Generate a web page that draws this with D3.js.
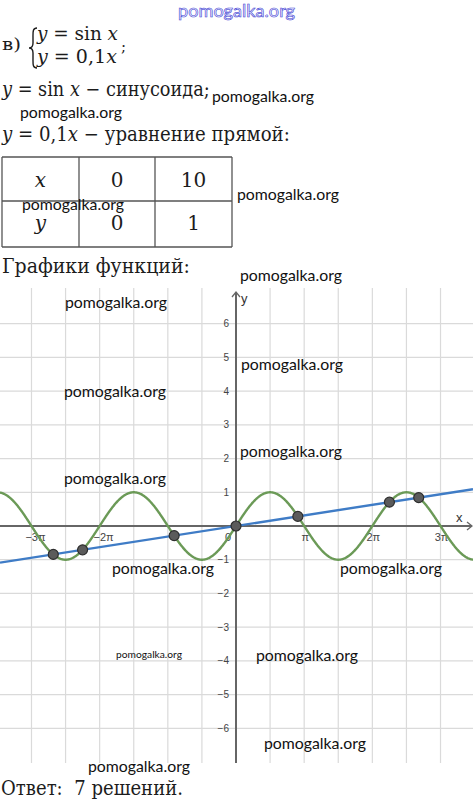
<!DOCTYPE html>
<html><head><meta charset="utf-8">
<script src="https://cdn.jsdelivr.net/npm/d3@7"></script>
<style>html,body{margin:0;padding:0;background:#fff;}svg{display:block;}</style>
</head><body>
<script>
// ---- data ----
const piMultiples = [-3, -2, 1, 2, 3];
const xTickLabels = ["\u22123\u03c0", "\u22122\u03c0", "\u03c0", "2\u03c0", "3\u03c0"];
const yTickValues = [-6, -5, -4, -3, -2, -1, 1, 2, 3, 4, 5, 6];
const yTickLabels = ["\u22126", "\u22125", "\u22124", "\u22123", "\u22122", "\u22121", "1", "2", "3", "4", "5", "6"];
const intersectionX = [-8.42, -7.07, -2.85, 0, 2.85, 7.07, 8.42];
const lineSlope = 0.1;
const tableHeader = ["x", "y"];
const tableX = [0, 10];
const tableY = [0, 1];
const watermarks = [
  [212, 102, 15], [20, 118, 15], [237, 200, 15], [22, 210, 15],
  [240, 281, 15], [65, 308, 15], [241, 370, 15], [64, 397, 15],
  [240, 457, 15], [64, 484, 15], [112, 574, 15], [340, 574, 15],
  [116, 658, 10], [256, 661, 15], [264, 749, 15], [88, 772, 15]
];

const W = 473, H = 801;
const svg = d3.select("body").append("svg").attr("width", W).attr("height", H);

const x = d3.scaleLinear().domain([-236 / 21.7, 237 / 21.7]).range([0, W]);
const y = d3.scaleLinear().domain([7, -7]).range([290, 762]);
const [xmin, xmax] = x.domain();

const serif = "'DejaVu Serif', serif";
const sans = "'Liberation Sans', Arial, sans-serif";
const wm = "Lato, 'Open Sans', sans-serif";
const ink = "#1c1c1c";

// text drawn naturally, then scaled horizontally to the measured reference width
function fitted(xp, yp, parts, width, size) {
  const g = svg.append("g");
  const t = g.append("text").attr("x", 0).attr("y", 0).attr("font-family", serif)
    .attr("font-size", size).attr("fill", ink).style("white-space", "pre");
  parts.forEach(p => t.append("tspan").attr("font-style", p[1] ? "italic" : "normal").text(p[0]));
  const w = t.node().getComputedTextLength();
  const sx = width / w;
  g.attr("transform", `translate(${xp},${yp}) scale(${sx},1)`);
  return g;
}

// ---- header text ----
svg.append("text").attr("x", 178).attr("y", 17).attr("font-family", wm).attr("font-size", 18)
  .attr("fill", "#f2f2ff").attr("stroke", "#3c3cd2").attr("stroke-width", 0.6)
  .attr("textLength", 117).attr("lengthAdjust", "spacingAndGlyphs").text("pomogalka.org");

fitted(2, 50, [["в)", 0]], 19, 17);
svg.append("path").attr("d", "M37,28 C32.5,28 33,32 33,37 L33,43 C33,46 32,48 29,48 C32,48 33,50 33,53 L33,59 C33,64 32.5,68 37,68")
  .attr("fill", "none").attr("stroke", ink).attr("stroke-width", 1.4);

fitted(37, 40, [["y", 1], [" = sin ", 0], ["x", 1]], 81, 19);
fitted(37, 63, [["y", 1], [" = 0,1", 0], ["x", 1]], 80, 19);
svg.append("text").attr("x", 121).attr("y", 52).attr("font-family", serif).attr("font-size", 15).attr("fill", ink).text(";");

fitted(2, 96, [["y", 1], [" = sin ", 0], ["x", 1], [" \u2212 синусоида;", 0]], 208, 20);
fitted(2, 141, [["y", 1], [" = 0,1", 0], ["x", 1], [" \u2212 уравнение прямой:", 0]], 288, 20);

// ---- table ----
const colX = [2, 79, 155, 232], rowY = [157, 201, 247];
const tg = svg.append("g").attr("stroke", "#555").attr("stroke-width", 1.3);
colX.forEach(c => tg.append("line").attr("x1", c).attr("x2", c).attr("y1", rowY[0]).attr("y2", rowY[2]));
rowY.forEach(r => tg.append("line").attr("x1", colX[0]).attr("x2", colX[3]).attr("y1", r).attr("y2", r));
const rows = [[tableHeader[0]].concat(tableX), [tableHeader[1]].concat(tableY)];
const rowBase = [187, 230];
rows.forEach((row, ri) => row.forEach((v, ci) => {
  svg.append("text").attr("x", (colX[ci] + colX[ci + 1]) / 2).attr("y", rowBase[ri])
    .attr("text-anchor", "middle").attr("font-family", serif).attr("font-size", 20)
    .attr("font-style", ci === 0 ? "italic" : "normal").attr("fill", ink).text(v);
}));

fitted(2, 273, [["Графики функций:", 0]], 188, 20);

// ---- graph grid ----
const grid = svg.append("g").attr("stroke", "#dadada").attr("stroke-width", 1.2);
d3.range(-6, 7).filter(k => k !== 0).forEach(k => {
  const px = x(k * Math.PI / 2);
  grid.append("line").attr("x1", px).attr("x2", px).attr("y1", 288).attr("y2", 763);
});
yTickValues.forEach(v => grid.append("line").attr("x1", 0).attr("x2", W).attr("y1", y(v)).attr("y2", y(v)));

// axes
const ax = svg.append("g").attr("stroke", "#666").attr("stroke-width", 2).attr("fill", "none");
ax.append("line").attr("x1", x(0)).attr("x2", x(0)).attr("y1", 292).attr("y2", 763);
ax.append("line").attr("x1", 0).attr("x2", 472).attr("y1", y(0)).attr("y2", y(0));
ax.append("path").attr("d", `M${x(0) - 4},297 L${x(0)},292 L${x(0) + 4},297`).attr("stroke-width", 1.3);
ax.append("path").attr("d", `M467,${y(0) - 4} L472,${y(0)} L467,${y(0) + 4}`).attr("stroke-width", 1.3);
svg.append("text").attr("x", 241).attr("y", 303).attr("font-family", sans).attr("font-size", 13).attr("fill", "#333").text("y");
svg.append("text").attr("x", 456).attr("y", 522).attr("font-family", sans).attr("font-size", 13).attr("fill", "#333").text("x");

// tick labels
piMultiples.forEach((m, i) => {
  const off = m < 0 ? 4 : 1;
  svg.append("text").attr("x", x(m * Math.PI) + off).attr("y", 541).attr("text-anchor", "middle")
    .attr("font-family", sans).attr("font-size", 11).attr("fill", "#444").text(xTickLabels[i]);
});
yTickValues.forEach((v, i) => {
  svg.append("text").attr("x", 229).attr("y", y(v) + 3.5).attr("text-anchor", "end")
    .attr("font-family", sans).attr("font-size", 10).attr("fill", "#444").text(yTickLabels[i]);
});
svg.append("text").attr("x", 231).attr("y", 541).attr("text-anchor", "end")
  .attr("font-family", sans).attr("font-size", 11).attr("fill", "#444").text("0");

// curves
const sinPts = d3.range(xmin, xmax + 0.02, 0.02).map(t => [t, Math.sin(t)]);
const lineGen = d3.line().x(d => x(d[0])).y(d => y(d[1]));
svg.append("path").datum(sinPts).attr("d", lineGen).attr("fill", "none")
  .attr("stroke", "#6b9a57").attr("stroke-width", 2.4);
svg.append("path").datum([[xmin, lineSlope * xmin], [xmax, lineSlope * xmax]]).attr("d", lineGen)
  .attr("fill", "none").attr("stroke", "#3f7cc6").attr("stroke-width", 2.4);

svg.selectAll("circle.pt").data(intersectionX).enter().append("circle")
  .attr("cx", d => x(d)).attr("cy", d => y(lineSlope * d)).attr("r", 5)
  .attr("fill", "#5b5b5b").attr("stroke", "#2e2e2e").attr("stroke-width", 1.2);

// watermarks
watermarks.forEach(([wx, wy, fs]) => {
  svg.append("text").attr("x", wx).attr("y", wy).attr("font-family", wm).attr("font-size", fs)
    .attr("fill", "#111").attr("textLength", fs === 15 ? 102 : 66).attr("lengthAdjust", "spacingAndGlyphs")
    .text("pomogalka.org");
});

fitted(1, 795, [["Ответ:  7 решений.", 0]], 182, 20);
</script>
</body></html>
